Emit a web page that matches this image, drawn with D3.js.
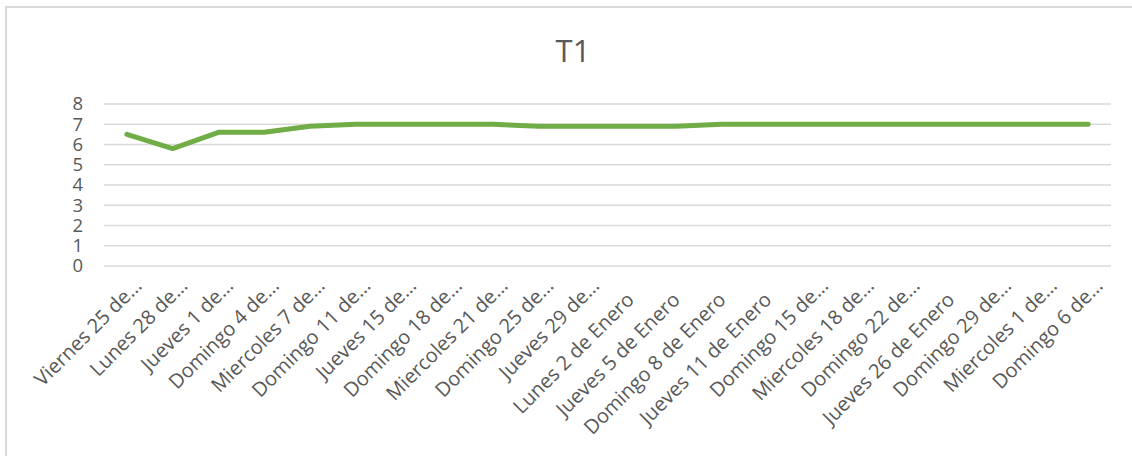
<!DOCTYPE html>
<html>
<head>
<meta charset="utf-8">
<script src="https://cdn.jsdelivr.net/npm/d3@7"></script>
<style>
  body { margin: 0; background: #fff; }
  svg { display: block; }
</style>
</head>
<body>
<svg id="chart" width="1132" height="456"></svg>
<script>
// Data
const categories = [
    "Viernes 25 de…", "Lunes 28 de…", "Jueves 1 de…", "Domingo 4 de…", "Miercoles 7 de…",
    "Domingo 11 de…", "Jueves 15 de…", "Domingo 18 de…", "Miercoles 21 de…", "Domingo 25 de…",
    "Jueves 29 de…", "Lunes 2 de Enero", "Jueves 5 de Enero", "Domingo 8 de Enero", "Jueves 11 de Enero",
    "Domingo 15 de…", "Miercoles 18 de…", "Domingo 22 de…", "Jueves 26 de Enero", "Domingo 29 de…",
    "Miercoles 1 de…", "Domingo 6 de…"
];
const values = [6.5, 5.8, 6.6, 6.6, 6.9, 7, 7, 7, 7, 6.9, 6.9, 6.9, 6.9, 7, 7, 7, 7, 7, 7, 7, 7, 7];
const yTicks = [0, 1, 2, 3, 4, 5, 6, 7, 8];
const title = "T1";

const svg = d3.select("#chart");
const font = "'Open Sans', sans-serif";
const textColor = "#595959";
const gridColor = "#d9d9d9";

// Chart border
svg.append("rect")
    .attr("x", 6).attr("y", 7)
    .attr("width", 1140).attr("height", 460)
    .attr("fill", "none")
    .attr("stroke", gridColor)
    .attr("stroke-width", 2);

const margin = { left: 104, right: 21, top: 104 };
const x = d3.scaleBand()
    .domain(categories)
    .range([margin.left, 1132 - margin.right]);
const y = d3.scaleLinear()
    .domain([0, 8])
    .range([266, margin.top]);

// Title
svg.append("text")
    .attr("x", 573).attr("y", 62)
    .attr("text-anchor", "middle")
    .style("font-family", font)
    .style("font-size", "31px")
    .style("fill", textColor)
    .text(title);

// Gridlines
svg.append("g")
    .selectAll("line")
    .data(yTicks)
    .join("line")
    .attr("x1", x.range()[0])
    .attr("x2", x.range()[1])
    .attr("y1", d => y(d))
    .attr("y2", d => y(d))
    .attr("stroke", gridColor)
    .attr("stroke-width", 1.5);

// Y axis labels
const yAxis = svg.append("g")
    .attr("transform", `translate(${margin.left},0)`)
    .call(d3.axisLeft(y).tickValues(yTicks).tickSize(0).tickPadding(21));
yAxis.select(".domain").remove();
yAxis.selectAll("text")
    .style("font-family", font)
    .style("font-size", "18.5px")
    .style("fill", textColor);

// X axis labels (truncated labels sit a little further along than full ones)
const xAxis = svg.append("g")
    .attr("transform", `translate(0,${y(0)})`)
    .call(d3.axisBottom(x).tickSize(0).tickPadding(0));
xAxis.select(".domain").remove();
xAxis.selectAll("text")
    .attr("text-anchor", "end")
    .attr("dy", 0)
    .attr("transform", d => d.endsWith("…")
        ? "translate(16,21) rotate(-45)"
        : "translate(5,35) rotate(-45)")
    .style("font-family", font)
    .style("font-size", "20px")
    .style("fill", textColor);

// Line
const line = d3.line()
    .x((d, i) => x(categories[i]) + x.bandwidth() / 2)
    .y(d => y(d));

svg.append("path")
    .datum(values)
    .attr("d", line)
    .attr("fill", "none")
    .attr("stroke", "#70ad47")
    .attr("stroke-width", 5)
    .attr("stroke-linejoin", "round")
    .attr("stroke-linecap", "round");
</script>
</body>
</html>
